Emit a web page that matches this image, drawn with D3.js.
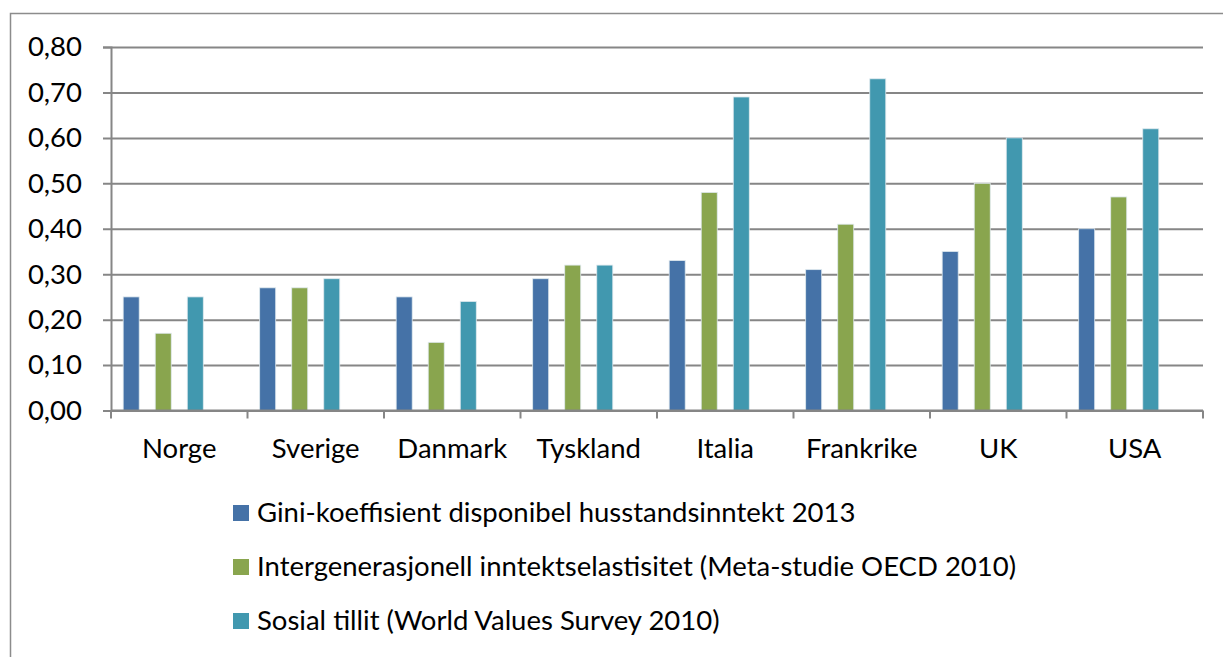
<!DOCTYPE html>
<html>
<head>
<meta charset="utf-8">
<script src="https://cdn.jsdelivr.net/npm/d3@7"></script>
<style>
  body { margin: 0; background: #fff; }
  svg { display: block; font-family: Lato, 'Open Sans', sans-serif; }
</style>
</head>
<body>
<div id="chart"></div>
<script>
const categories = ['Norge', 'Sverige', 'Danmark', 'Tyskland', 'Italia', 'Frankrike', 'UK', 'USA'];
const gini = [0.25, 0.27, 0.25, 0.29, 0.33, 0.31, 0.35, 0.40];
const elastisitet = [0.17, 0.27, 0.15, 0.32, 0.48, 0.41, 0.50, 0.47];
const tillit = [0.25, 0.29, 0.24, 0.32, 0.69, 0.73, 0.60, 0.62];
const seriesNames = [
  'Gini-koeffisient disponibel husstandsinntekt 2013',
  'Intergenerasjonell inntektselastisitet (Meta-studie OECD 2010)',
  'Sosial tillit (World Values Survey 2010)',
];
const yTicks = [0, 0.1, 0.2, 0.3, 0.4, 0.5, 0.6, 0.7, 0.8];

const series = [gini, elastisitet, tillit];
const colors = ['#4572a7', '#89a54e', '#4198af'];

const width = 1223;
const height = 657;
const margin = { top: 47, right: 20, bottom: 247, left: 111 };
const plotRight = 1203;
const fontSize = 27.5;
const fmt = d3.format('.2f');

const svg = d3.select('#chart').append('svg')
  .attr('width', width)
  .attr('height', height);

// outer frame (cropped on right/bottom)
svg.append('rect')
  .attr('x', 10.5).attr('y', 13.5)
  .attr('width', 1240).attr('height', 700)
  .attr('fill', 'none').attr('stroke', '#8c8c8c').attr('stroke-width', 1.5);

const x = d3.scaleBand().domain(categories).range([margin.left, plotRight]);
// Excel reserved four slots per category, only three are used
const slot = d3.scaleBand().domain([0, 1, 2, 3])
  .range([0, x.bandwidth()]).paddingInner(0.5).paddingOuter(0.38);
const y = d3.scaleLinear().domain([0, 0.8]).range([height - margin.bottom + 0.5, margin.top]);

// gridlines + y ticks
const yAxis = svg.append('g')
  .attr('transform', `translate(${margin.left}, 0)`)
  .call(d3.axisLeft(y).tickValues(yTicks).tickSize(8).tickPadding(21)
    .tickFormat(d => fmt(d).replace('.', ',')));
yAxis.select('.domain').attr('stroke', '#868686').attr('stroke-width', 2);
yAxis.selectAll('.tick line').attr('stroke', '#868686').attr('stroke-width', 2)
  .attr('x1', plotRight - margin.left);
yAxis.selectAll('.tick text').attr('font-size', fontSize).attr('fill', '#000')
  .attr('font-family', 'Lato, sans-serif');

// bars
series.forEach((values, s) => {
  svg.append('g').selectAll('rect')
    .data(values)
    .join('rect')
    .attr('x', (d, i) => x(categories[i]) + slot(s))
    .attr('y', d => y(d))
    .attr('width', slot.bandwidth())
    .attr('height', d => y(0) - y(d))
    .attr('fill', colors[s])
    .attr('stroke', '#dfe9ee')
    .attr('stroke-width', 0.8);
});

// x axis with boundary ticks
const xAxis = svg.append('g')
  .attr('transform', `translate(0, ${y(0)})`);
xAxis.append('line')
  .attr('x1', margin.left).attr('x2', plotRight)
  .attr('stroke', '#868686').attr('stroke-width', 2);
const bounds = categories.map(c => x(c)).concat([plotRight]);
xAxis.selectAll('line.tick').data(bounds).join('line')
  .attr('class', 'tick')
  .attr('x1', d => d).attr('x2', d => d)
  .attr('y1', 0).attr('y2', 8)
  .attr('stroke', '#868686').attr('stroke-width', 2);
xAxis.selectAll('text').data(categories).join('text')
  .attr('x', d => x(d) + x.bandwidth() / 2)
  .attr('y', 47)
  .attr('text-anchor', 'middle')
  .attr('font-size', fontSize)
  .text(d => d);

// legend
const legend = svg.append('g').attr('transform', 'translate(233, 505)');
const items = legend.selectAll('g').data(seriesNames).join('g')
  .attr('transform', (d, i) => `translate(0, ${i * 54})`);
items.append('rect')
  .attr('width', 16).attr('height', 16)
  .attr('fill', (d, i) => colors[i]);
items.append('text')
  .attr('x', 24).attr('y', 17)
  .attr('font-size', fontSize)
  .text(d => d);
</script>
</body>
</html>
